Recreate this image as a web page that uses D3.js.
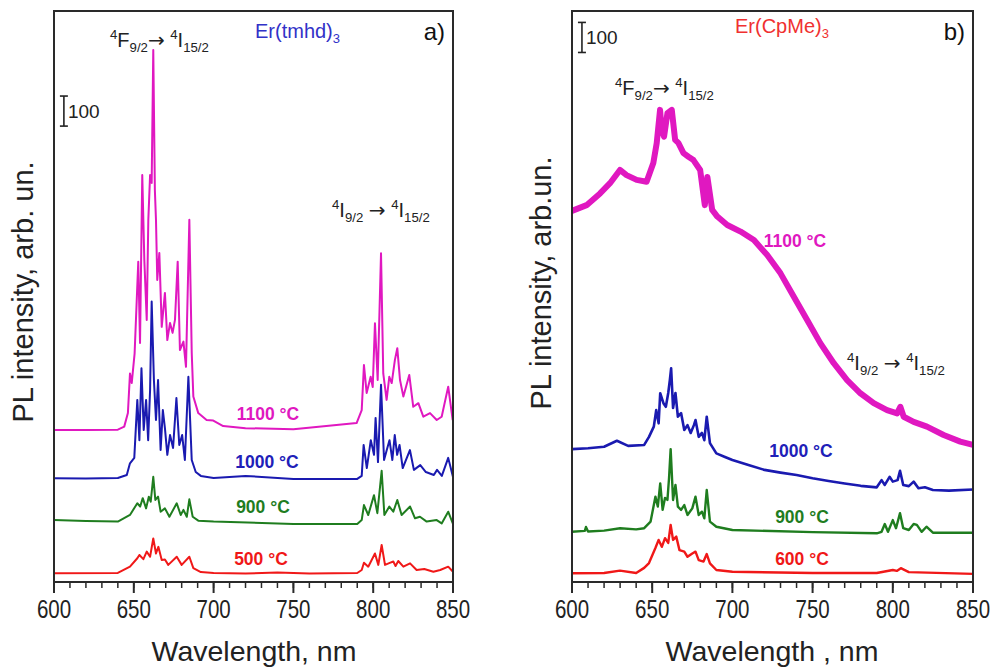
<!DOCTYPE html>
<html><head><meta charset="utf-8">
<script src="https://cdn.jsdelivr.net/npm/d3@7"></script>
<style>body{margin:0;background:#fff}svg{display:block}</style>
</head><body>
<svg id="chart" width="995" height="667"></svg>
<script>
// ---------- DATA ----------
const xDomain = [600, 850];
const yDomain = [0, 1900];
const majorTicks = [600, 650, 700, 750, 800, 850];
const minorTicks = d3.range(600, 851, 10);

// Panel a: Er(tmhd)3  [wavelength nm, PL intensity (offset stacked)]
const a_500 = [[600,29],[640,30],[647.6,51],[652.2,79],[653.5,90],[656,76],[658.1,101],[660.2,84],[662.2,145],[663.9,95],[665.4,117],[667.5,73],[669.5,75],[671.6,57],[676.9,84],[680,57],[684.8,84],[687.3,46],[692,33],[700,30],[720,28],[740,32],[760,28],[790,30],[792.8,40],[794.2,64],[796.9,51],[801.1,95],[803.2,57],[805.3,123],[807.4,57],[810,63],[812.6,68],[814,53],[815.7,70],[818.9,51],[823.1,62],[827.2,40],[832,43],[837.7,34],[842,40],[847,51],[850,34]];
const a_900 = [[600,206],[620,203],[640,201],[647.6,223],[652.2,262],[654,251],[655.6,279],[657.7,245],[659.4,284],[660.6,267],[662.2,350],[663.5,273],[665.2,284],[666.8,234],[669.5,245],[672.3,217],[676.9,262],[679.4,223],[681.1,240],[683.2,217],[684.8,275],[686.9,217],[690.4,204],[700,201],[750,193],[790,193],[792.8,206],[794.2,256],[796.9,223],[800.5,289],[802.6,229],[805.3,370],[807,223],[810.1,251],[812.6,234],[815.1,273],[817.8,223],[823.1,251],[826.2,212],[829.3,217],[833.5,201],[839.8,206],[842.9,195],[847,234],[850,193]];
const a_1000 = [[600,345],[620,344],[640,346],[645.6,356],[647.6,395],[650.3,413],[652.2,606],[653.5,472],[654.8,711],[656.2,506],[657.7,606],[659,472],[660.2,639],[661.2,933],[662.6,672],[663.9,539],[665.2,672],[666.8,439],[668.2,572],[669.5,512],[671,423],[672.7,489],[674.6,446],[676.7,612],[678.5,456],[680.3,489],[682,406],[684.2,683],[686.3,406],[688.8,366],[692,353],[700,346],[720,353],[750,343],[790,343],[792.8,353],[794,456],[796,379],[798.5,472],[800.5,423],[801.5,546],[803,399],[804.9,656],[806.8,406],[808.5,439],[810.2,472],[812,406],[813.5,489],[815,423],[816.5,456],[818.5,379],[823,439],[825.5,373],[829.5,389],[833,366],[838,356],[840,373],[843,353],[847,413],[850,349]];
const a_1100 = [[600,506],[620,506],[640,507],[644,517],[646.3,562],[647.6,694],[648.7,662],[650.5,760],[652.8,1066],[653.9,795],[655.3,1354],[656.6,1071],[658.1,872],[659.1,1205],[660.2,1354],[661.2,1328],[662.2,1770],[663.2,1304],[663.9,1205],[664.7,1005],[666,1095],[667.5,849],[669.5,962],[671,805],[672.7,862],[674.3,829],[675.8,872],[677.5,1066],[678.9,772],[681.1,800],[682.7,716],[684.8,1205],[686.3,762],[687.3,617],[690.4,562],[695.6,539],[699.8,537],[706,519],[720,512],[750,508],[789.6,529],[792.8,572],[794.2,722],[795.9,629],[798.4,683],[799.7,649],[801.1,861],[802.8,672],[804.9,1094],[806.3,694],[808.4,606],[810.1,683],[811.6,662],[813.6,739],[815.1,778],[816.8,672],[818.9,617],[822.6,689],[825.1,583],[828.3,595],[831.4,550],[835.6,562],[839.8,539],[842.9,550],[847,650],[849.8,539]];

// Panel b: Er(CpMe)3
const b_600 = [[600,29],[620,30],[629.9,38],[640,30],[645,47],[648,63],[652,113],[654,140],[656,117],[658,146],[660,130],[661.5,190],[663,140],[665,151],[667,106],[670,101],[672,84],[675,95],[677,101],[679,73],[682,68],[684,93],[686,62],[690,40],[700,34],[750,30],[790,30],[800,40],[802.5,37],[805,46],[810,33],[850,27]];
const b_900 = [[600,167],[608,170],[608.7,183],[610,168],[620,171],[630,179],[640,175],[645,179],[649,201],[652,284],[653.5,251],[655,328],[656.5,240],[658,280],[659.5,273],[660.5,346],[661.5,442],[663,273],[664.5,323],[666,251],[668,240],[670,256],[672,223],[675,245],[677,284],[679,223],[681,234],[682.5,212],[684,306],[686,201],[690,184],[700,173],[750,166],[790,162],[793,167],[795,193],[797,167],[800,206],[802,179],[804.5,229],[806.5,179],[810,173],[813,193],[815,190],[818,167],[821,184],[825,164],[850,164]];
const b_1000 = [[600,442],[610,445],[620,450],[628,470],[635,453],[645,456],[648,483],[651,517],[652.5,572],[654,528],[655,628],[657,595],[658.5,583],[660,629],[661,672],[661.8,711],[663,579],[664.5,629],[666,550],[668,562],[670,506],[672,522],[674,496],[676,522],[677,539],[679,483],[681,496],[682.5,472],[684,550],[686,462],[690,428],[695,417],[700,406],[710,389],[720,373],[730,364],[740,356],[750,345],[760,336],[770,328],[780,320],[790,315],[793,339],[795,323],[798,350],[800,334],[803,339],[804.5,370],[806.5,323],[810,319],[813,334],[816,312],[820,315],[825,306],[835,304],[850,308]];
const b_1100 = [[600,1235],[609.1,1254],[617.5,1293],[623.7,1327],[629.9,1371],[634,1354],[640.3,1338],[646.5,1332],[650.7,1394],[652.8,1460],[654.9,1571],[655.9,1504],[657.4,1482],[659.5,1560],[662.2,1571],[664.3,1471],[666.3,1461],[669.5,1427],[672.6,1415],[675.7,1404],[679.9,1371],[682.8,1254],[684.4,1348],[687.4,1238],[690.6,1216],[696.8,1188],[705.1,1166],[713.4,1138],[721.7,1088],[730,1027],[738.3,949],[746.6,872],[754.9,794],[763.2,728],[771.5,672],[779.8,628],[788.1,595],[796.4,572],[802.7,561],[804.7,583],[806.8,550],[813,533],[821.3,517],[831.7,489],[842.1,467],[850,456]];

const scaleBar = [0, 100]; // 100 arb. units

// ---------- DRAW ----------
const svg = d3.select("#chart");
const FONT = "'Liberation Sans', Arial, sans-serif";
const C = {mag:"#e018c0", blue:"#1a1ab0", green:"#1f7d1f", red:"#f01818"};

function transition(g, x, y, parts, fs) {
  const t = g.append("text").attr("x", x).attr("y", y)
    .attr("font-family", FONT).attr("font-size", fs).attr("fill", "#222");
  let shift = 0;
  parts.forEach(([s, k]) => {
    const target = k === "sup" ? -8 : k === "sub" ? 5 : 0;
    const ts = t.append("tspan").attr("dy", target - shift)
      .attr("font-size", (k === "n" || k === "arr") ? fs : fs * 0.66).text(s);
    if (k === "arr") ts.attr("font-family", "'DejaVu Sans', sans-serif");
    shift = target;
  });
}

function panel(cfg) {
  const x = d3.scaleLinear().domain(xDomain).range([cfg.left, cfg.right]);
  const y = d3.scaleLinear().domain(yDomain).range([582, 11]);
  const g = svg.append("g");
  const line = d3.line().x(d => x(d[0])).y(d => y(d[1]));

  cfg.series.forEach(s => {
    g.append("path").datum(s.data).attr("fill", "none")
      .attr("stroke", s.color).attr("stroke-width", s.width)
      .attr("stroke-linejoin", "round").attr("d", line);
  });

  g.append("rect").attr("x", cfg.left).attr("y", 11)
    .attr("width", cfg.right - cfg.left).attr("height", 571)
    .attr("fill", "none").attr("stroke", "#2a2a2a").attr("stroke-width", 2);

  const ax = g.append("g").attr("transform", "translate(0,582)");
  ax.selectAll("line.minor").data(minorTicks).join("line")
    .attr("x1", d => x(d)).attr("x2", d => x(d)).attr("y1", 0).attr("y2", 6)
    .attr("stroke", "#2a2a2a").attr("stroke-width", 1.5);
  ax.selectAll("line.major").data(majorTicks).join("line")
    .attr("x1", d => x(d)).attr("x2", d => x(d)).attr("y1", 0).attr("y2", 11)
    .attr("stroke", "#2a2a2a").attr("stroke-width", 2);
  ax.selectAll("text").data(majorTicks).join("text")
    .attr("transform", d => `translate(${x(d)},36) scale(0.82,1)`)
    .attr("text-anchor", "middle")
    .attr("font-family", FONT).attr("font-size", 25).attr("fill", "#222")
    .text(d => d);

  g.append("text").attr("x", cfg.xTitleX).attr("y", 661).attr("text-anchor", "middle")
    .attr("font-family", FONT).attr("font-size", 28.5).attr("fill", "#222").text(cfg.xTitle);
  g.append("text").attr("transform", `translate(${cfg.yTitleX},${cfg.yTitleY}) rotate(-90)`)
    .attr("text-anchor", "middle").attr("font-family", FONT).attr("font-size", 29)
    .attr("fill", "#222").text(cfg.yTitle);

  const sbx = x(606.2);
  const sb0 = y(cfg.sbBase + scaleBar[0]), sb1 = y(cfg.sbBase + scaleBar[1]);
  const sbg = g.append("g").attr("stroke", "#222").attr("stroke-width", 1.6);
  sbg.append("line").attr("x1", sbx).attr("x2", sbx).attr("y1", sb0).attr("y2", sb1);
  sbg.append("line").attr("x1", sbx - 4).attr("x2", sbx + 4).attr("y1", sb0).attr("y2", sb0);
  sbg.append("line").attr("x1", sbx - 4).attr("x2", sbx + 4).attr("y1", sb1).attr("y2", sb1);
  g.append("text").attr("x", sbx + 4).attr("y", (sb0 + sb1) / 2 + 7)
    .attr("font-family", FONT).attr("font-size", 19).attr("fill", "#222").text("100");

  cfg.temps.forEach(t => {
    g.append("text").attr("x", t.x).attr("y", t.y).attr("text-anchor", "middle")
      .attr("font-family", FONT).attr("font-weight", "bold").attr("font-size", 17.5)
      .attr("fill", t.color).text(t.text);
  });

  const ct = g.append("text").attr("x", cfg.nameX).attr("y", cfg.nameY)
    .attr("font-family", FONT).attr("font-size", 20).attr("fill", cfg.nameColor);
  ct.append("tspan").text(cfg.name);
  ct.append("tspan").attr("dy", 5).attr("font-size", 13).text("3");

  g.append("text").attr("x", cfg.right - 8).attr("y", 40).attr("text-anchor", "end")
    .attr("font-family", FONT).attr("font-size", 24).attr("fill", "#111").text(cfg.letter);

  transition(g, cfg.t1[0], cfg.t1[1],
    [["4","sup"],["F","n"],["9/2","sub"],["\u2192","arr"],[" ","n"],["4","sup"],["I","n"],["15/2","sub"]], 20);
  transition(g, cfg.t2[0], cfg.t2[1],
    [["4","sup"],["I","n"],["9/2","sub"],[" ","n"],["\u2192","arr"],[" ","n"],["4","sup"],["I","n"],["15/2","sub"]], 20);
}

panel({
  left: 54, right: 453,
  series: [
    {data: a_500, color: C.red, width: 2},
    {data: a_900, color: C.green, width: 2},
    {data: a_1000, color: C.blue, width: 2},
    {data: a_1100, color: C.mag, width: 2}
  ],
  xTitle: "Wavelength, nm", xTitleX: 254,
  yTitle: "PL intensity, arb. un.", yTitleX: 33, yTitleY: 292,
  sbBase: 1517,
  temps: [
    {text: "1100 °C", x: 268, y: 420, color: C.mag},
    {text: "1000 °C", x: 267, y: 468, color: "#2020b8"},
    {text: "900 °C", x: 263, y: 513, color: C.green},
    {text: "500 °C", x: 261, y: 565, color: C.red}
  ],
  name: "Er(tmhd)", nameX: 255, nameY: 38, nameColor: "#3232c8",
  letter: "a)",
  t1: [110, 47], t2: [332, 217]
});

panel({
  left: 572, right: 973,
  series: [
    {data: b_600, color: C.red, width: 2.4},
    {data: b_900, color: C.green, width: 2.4},
    {data: b_1000, color: C.blue, width: 2.6},
    {data: b_1100, color: C.mag, width: 6}
  ],
  xTitle: "Wavelength , nm", xTitleX: 772,
  yTitle: "PL intensity, arb.un.", yTitleX: 551, yTitleY: 283,
  sbBase: 1762,
  temps: [
    {text: "1100 °C", x: 795, y: 247, color: C.mag},
    {text: "1000 °C", x: 801, y: 457, color: "#2020b8"},
    {text: "900 °C", x: 802, y: 523, color: C.green},
    {text: "600 °C", x: 802, y: 565, color: C.red}
  ],
  name: "Er(CpMe)", nameX: 735, nameY: 33, nameColor: "#f03030",
  letter: "b)",
  t1: [615, 95], t2: [847, 370]
});
</script>
</body></html>
